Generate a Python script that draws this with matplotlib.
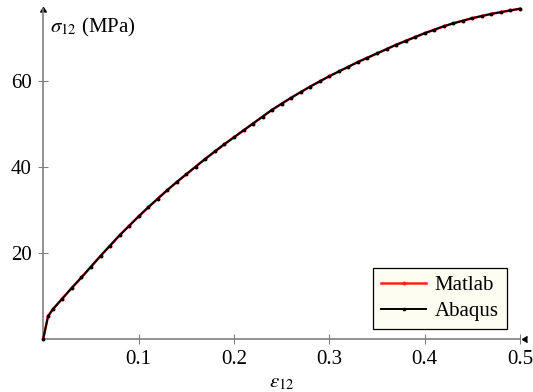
import numpy as np
import matplotlib
matplotlib.use('Agg')
import matplotlib.pyplot as plt

# strain values (shared by both series)
strain = [0.0, 0.005, 0.01, 0.02, 0.03, 0.04, 0.05, 0.06, 0.07, 0.08, 0.09,
          0.10, 0.11, 0.12, 0.13, 0.14, 0.15, 0.16, 0.17, 0.18, 0.19,
          0.20, 0.21, 0.22, 0.23, 0.24, 0.25, 0.26, 0.27, 0.28, 0.29,
          0.30, 0.31, 0.32, 0.33, 0.34, 0.35, 0.36, 0.37, 0.38, 0.39,
          0.40, 0.41, 0.42, 0.43, 0.44, 0.45, 0.46, 0.47, 0.48, 0.49, 0.50]

# shear stress in MPa
stress_matlab = [0.0, 5.2, 6.8, 9.3, 11.8, 14.2, 16.7, 19.2, 21.6, 24.0, 26.2,
                 28.4, 30.5, 32.5, 34.5, 36.4, 38.2, 40.0, 41.8, 43.5, 45.2,
                 46.8, 48.4, 50.0, 51.6, 53.2, 54.6, 56.0, 57.3, 58.6, 59.8,
                 61.0, 62.1, 63.2, 64.3, 65.3, 66.3, 67.3, 68.3, 69.2, 70.1,
                 71.0, 71.8, 72.6, 73.3, 73.9, 74.5, 75.0, 75.5, 75.9, 76.3, 76.7]
stress_abaqus = [0.0, 5.2, 6.8, 9.3, 11.8, 14.2, 16.7, 19.2, 21.6, 24.0, 26.2,
                 28.4, 30.5, 32.5, 34.5, 36.4, 38.2, 40.0, 41.8, 43.5, 45.2,
                 46.8, 48.4, 50.0, 51.6, 53.2, 54.6, 56.0, 57.3, 58.6, 59.8,
                 61.0, 62.1, 63.2, 64.3, 65.3, 66.3, 67.3, 68.3, 69.2, 70.1,
                 71.0, 71.8, 72.6, 73.3, 73.9, 74.5, 75.0, 75.5, 75.9, 76.3, 76.7]

xticks = [0.1, 0.2, 0.3, 0.4, 0.5]
yticks = [20, 40, 60]

plt.rcParams['font.family'] = ['Liberation Serif', 'DejaVu Serif']
plt.rcParams['mathtext.fontset'] = 'stix'
fs = 15

axis_col = '#808080'

fig = plt.figure(figsize=(5.33, 3.92), dpi=100)
ax = fig.add_axes([43.3 / 533, 1 - 338.5 / 392, 476.7 / 533, 329.8 / 392])

ax.plot(strain, stress_matlab, color='#ff2020', lw=1.8, marker='o', ms=1.8,
        mec='#ff2020', label='Matlab', clip_on=False, zorder=3)
ax.plot(strain, stress_abaqus, color='black', lw=1.4, marker='s', ms=2.0,
        label='Abaqus', clip_on=False, zorder=4)

ax.set_xlim(0, 0.5)
ax.set_ylim(0, 76.7)

for s in ['top', 'right']:
    ax.spines[s].set_visible(False)
for s in ['left', 'bottom']:
    ax.spines[s].set_color(axis_col)
    ax.spines[s].set_linewidth(1.2)

# arrow heads on the axes
ax.plot(1.004, 0, marker=4, color='black', ms=5, transform=ax.transAxes, clip_on=False)
ax.plot(0, 1.004, marker=6, color='black', ms=5, transform=ax.transAxes, clip_on=False)

ax.set_xticks(xticks)
ax.set_xticklabels(['0.1', '0.2', '0.3', '0.4', '0.5'])
ax.set_yticks(yticks)
ax.tick_params(direction='inout', length=7, width=0.8, color=axis_col,
               labelsize=fs, pad=5)

ax.set_xlabel(r'$\varepsilon_{12}$', fontsize=fs, labelpad=3)
fig.text(50 / 533, 1 - 27 / 392, r'$\sigma_{12}$ (MPa)', fontsize=fs,
         ha='left', va='center')

leg = ax.legend(loc='lower right', bbox_to_anchor=(506.7 / 533, 63 / 392),
                bbox_transform=fig.transFigure, fontsize=fs, frameon=True,
                fancybox=False, handlelength=2.2, handletextpad=0.4,
                borderpad=0.38, labelspacing=0.3, borderaxespad=0)
leg.get_frame().set_facecolor('#fdfdf2')
leg.get_frame().set_edgecolor('black')
leg.get_frame().set_linewidth(0.9)
leg.get_frame().set_alpha(1)

fig.savefig('out.png', dpi=100)
